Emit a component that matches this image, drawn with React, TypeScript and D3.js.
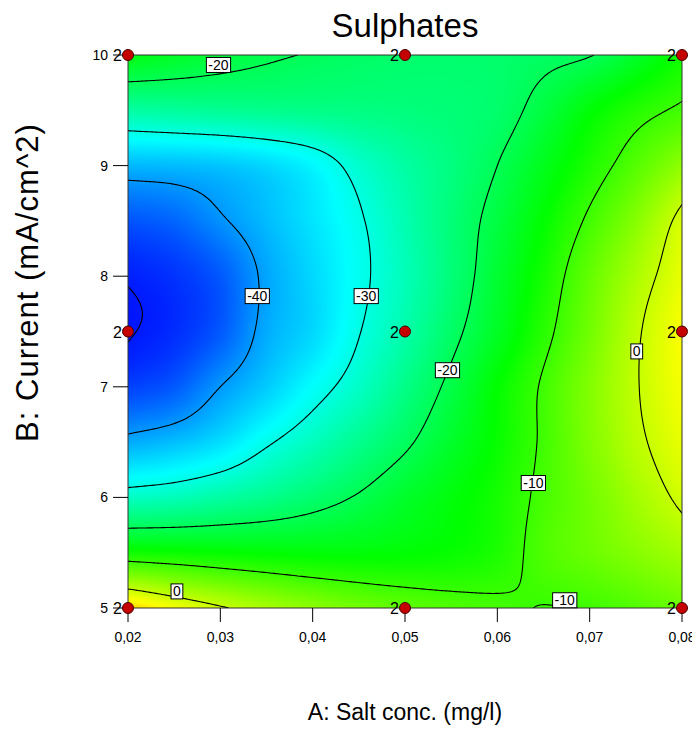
import React, { useMemo } from "react";
import * as d3 from "d3";

// ---------- data ----------
const SALT = [0.02, 0.025, 0.03, 0.035, 0.04, 0.045, 0.05, 0.055, 0.06, 0.065, 0.07, 0.075, 0.08];
const CURRENT = [10, 9.5, 9, 8.5, 8, 7.5, 7, 6.5, 6, 5.5, 5];
// Sulphates response, one row per CURRENT value (top to bottom), one column per SALT value
const SULPHATES = [
  [-15, -16.5, -18, -19.3, -20.3, -21, -21.5, -21.7, -21.5, -21, -20.2, -17, -13],
  [-25.5, -25, -24.5, -24, -23.6, -23.2, -22.8, -22.3, -21.5, -18.5, -14.5, -11.5, -9.3],
  [-37.5, -37.2, -36.5, -35, -32.5, -28.5, -25.5, -23, -20, -16, -12, -8, -3.8],
  [-45.5, -44, -40.6, -37.2, -34, -30.5, -26.5, -22.5, -18.5, -14, -9.3, -4.5, 1.2],
  [-49.6, -48, -45, -39, -35, -31, -27, -22.5, -17.5, -12.5, -7, -2, 2.5],
  [-50.3, -48.5, -45, -38.5, -35, -30.2, -26, -21.2, -16.5, -11.2, -6, -0.6, 3.8],
  [-47, -45, -40, -36, -31.8, -28, -23.5, -19, -14, -9.5, -4.8, -0.3, 3.5],
  [-38.6, -37, -34.5, -30.6, -27.3, -24, -20.7, -17, -13.5, -9.4, -5, -0.9, 2.5],
  [-27.8, -27, -25.5, -23.8, -21.8, -19.6, -17, -14.8, -12.5, -9, -6, -2.5, 0.8],
  [-12.8, -13.3, -13.8, -14.2, -14.5, -14.5, -14.2, -13.5, -12, -8.5, -6.5, -4.5, -2.5],
  [7, 3.5, 0.5, -2, -4, -5.8, -7.2, -8.3, -9.2, -10.1, -9.6, -8.2, -6.5],
];
const LEVELS = [-50, -40, -30, -20, -10, 0];
const COLOR_STOPS = [-52, -32, -14, 4, 20];
const COLOR_RANGE = ["#0000ff", "#00ffff", "#00ff00", "#ffff00", "#ff0000"];
const X_TICKS = [0.02, 0.03, 0.04, 0.05, 0.06, 0.07, 0.08];
const X_TICK_LABELS = ["0,02", "0,03", "0,04", "0,05", "0,06", "0,07", "0,08"];
const Y_TICKS = [5, 6, 7, 8, 9, 10];
const DESIGN_POINTS = [
  { a: 0.02, b: 10, n: 2 }, { a: 0.05, b: 10, n: 2 }, { a: 0.08, b: 10, n: 2 },
  { a: 0.02, b: 7.5, n: 2 }, { a: 0.05, b: 7.5, n: 2 }, { a: 0.08, b: 7.5, n: 2 },
  { a: 0.02, b: 5, n: 2 }, { a: 0.05, b: 5, n: 2 }, { a: 0.08, b: 5, n: 2 },
];
const CONTOUR_LABELS = [
  { level: -20, a: 0.0298, b: 9.91 },
  { level: -40, a: 0.034, b: 7.82 },
  { level: -30, a: 0.0458, b: 7.82 },
  { level: -20, a: 0.0546, b: 7.15 },
  { level: -10, a: 0.0639, b: 6.13 },
  { level: -10, a: 0.0673, b: 5.07 },
  { level: 0, a: 0.0751, b: 7.32 },
  { level: 0, a: 0.0253, b: 5.15 },
];

const FONT = "'Liberation Sans', Arial, Helvetica, sans-serif";

function cr(p0: number, p1: number, p2: number, p3: number, t: number) {
  return 0.5 * (2 * p1 + (-p0 + p2) * t + (2 * p0 - 5 * p1 + 4 * p2 - p3) * t * t + (-p0 + 3 * p1 - 3 * p2 + p3) * t * t * t);
}
function cell(r: number, c: number): number {
  const nr = SULPHATES.length, nc = SULPHATES[0].length;
  if (r < 0) return 2 * cell(0, c) - cell(1, c);
  if (r >= nr) return 2 * cell(nr - 1, c) - cell(nr - 2, c);
  if (c < 0) return 2 * cell(r, 0) - cell(r, 1);
  if (c >= nc) return 2 * cell(r, nc - 1) - cell(r, nc - 2);
  return SULPHATES[r][c];
}
function surface(a: number, b: number) {
  const sc = (a - SALT[0]) / (SALT[1] - SALT[0]);
  const sr = (CURRENT[0] - b) / (CURRENT[0] - CURRENT[1]);
  const c = Math.min(Math.max(Math.floor(sc), 0), SALT.length - 2);
  const r = Math.min(Math.max(Math.floor(sr), 0), CURRENT.length - 2);
  const tc = sc - c, tr = sr - r;
  const rows = [-1, 0, 1, 2].map((dr) =>
    cr(cell(r + dr, c - 1), cell(r + dr, c), cell(r + dr, c + 1), cell(r + dr, c + 2), tc)
  );
  return cr(rows[0], rows[1], rows[2], rows[3], tr);
}

export default function App() {
  const W = 700, H = 733;
  const x = d3.scaleLinear().domain([0.02, 0.08]).range([128, 682]);
  const y = d3.scaleLinear().domain([5, 10]).range([608, 55]);
  const color = d3.scaleLinear<string>().domain(COLOR_STOPS).range(COLOR_RANGE).clamp(true);
  const [x0, x1] = x.range();
  const [y1, y0] = y.range();

  const { href, paths, nx, ny, stepX, stepY } = useMemo(() => {
    const nx = 278, ny = 277;
    const stepX = (x1 - x0) / (nx - 1), stepY = (y1 - y0) / (ny - 1);
    const values = new Float64Array(nx * ny);
    for (let j = 0; j < ny; j++) {
      const b = y.invert(y0 + j * stepY);
      for (let i = 0; i < nx; i++) {
        values[j * nx + i] = surface(x.invert(x0 + i * stepX), b);
      }
    }
    let href = "";
    try {
      const canvas = document.createElement("canvas");
      canvas.width = nx; canvas.height = ny;
      const ctx = canvas.getContext("2d")!;
      const img = ctx.createImageData(nx, ny);
      for (let k = 0; k < nx * ny; k++) {
        const c = d3.rgb(color(values[k]));
        img.data[4 * k] = c.r; img.data[4 * k + 1] = c.g; img.data[4 * k + 2] = c.b; img.data[4 * k + 3] = 255;
      }
      ctx.putImageData(img, 0, 0);
      href = canvas.toDataURL();
    } catch (e) { href = ""; }
    const contours = d3.contours().size([nx, ny]).thresholds(LEVELS)(Array.from(values));
    const paths = contours.map((g) => {
      let d = "";
      g.coordinates.forEach((poly) => poly.forEach((ring) => {
        ring.forEach((p, k) => {
          const px = x0 + (p[0] - 0.5) * stepX, py = y0 + (p[1] - 0.5) * stepY;
          d += (k === 0 ? "M" : "L") + px.toFixed(2) + "," + py.toFixed(2);
        });
      }));
      return { level: g.value, d };
    });
    return { href, paths, nx, ny, stepX, stepY };
  }, []);

  const textW = (s: string, fs: number) => s.split("").reduce((w, ch) => w + (ch === "-" ? 0.333 : 0.556), 0) * fs;

  return (
    <svg width={W} height={H} style={{ display: "block", margin: "-8px" }} fontFamily={FONT}>
      <defs>
        <clipPath id="plotClip"><rect x={x0} y={y0} width={x1 - x0} height={y1 - y0} /></clipPath>
      </defs>
      <rect width={W} height={H} fill="#fff" />
      <text x={(x0 + x1) / 2} y={37} fontSize={33} textAnchor="middle">Sulphates</text>
      <g clipPath="url(#plotClip)">
        {href && (
          <image href={href} x={x0 - stepX / 2} y={y0 - stepY / 2} width={nx * stepX} height={ny * stepY} preserveAspectRatio="none" />
        )}
        {paths.map((p, i) => (
          <path key={i} d={p.d} fill="none" stroke="#000" strokeWidth={1.1} />
        ))}
      </g>
      <rect x={x0} y={y0} width={x1 - x0} height={y1 - y0} fill="none" stroke="#333" strokeWidth={1} />
      {CONTOUR_LABELS.map((l, i) => {
        const s = String(l.level);
        const w = textW(s, 14) + 4;
        const cx = x(l.a), cy = y(l.b);
        return (
          <g key={i}>
            <rect x={cx - w / 2} y={cy - 7.5} width={w} height={15} fill="#fff" stroke="#000" strokeWidth={1} />
            <text x={cx} y={cy + 5} fontSize={14} textAnchor="middle">{s}</text>
          </g>
        );
      })}
      {X_TICKS.map((t, i) => (
        <g key={i}>
          <line x1={x(t)} x2={x(t)} y1={y1} y2={y1 + 14} stroke="#000" />
          <text x={x(t)} y={642} fontSize={14} textAnchor="middle">{X_TICK_LABELS[i]}</text>
        </g>
      ))}
      {Y_TICKS.map((t, i) => (
        <g key={i}>
          <line x1={x0 - 15} x2={x0} y1={y(t)} y2={y(t)} stroke="#000" />
          <text x={108} y={y(t) + 5} fontSize={14} textAnchor="end">{t}</text>
        </g>
      ))}
      {DESIGN_POINTS.map((p, i) => (
        <g key={i}>
          <text x={x(p.a) - 6} y={y(p.b) + 6} fontSize={16} textAnchor="end">{p.n}</text>
          <circle cx={x(p.a)} cy={y(p.b)} r={5.5} fill="#c40000" stroke="#4a0000" strokeWidth={1} />
        </g>
      ))}
      <text x={(x0 + x1) / 2} y={720} fontSize={23} textAnchor="middle">A: Salt conc. (mg/l)</text>
      <text transform={`translate(38,${(118 + 447) / 2}) rotate(-90)`} fontSize={31} letterSpacing={1} textAnchor="middle">B: Current  (mA/cm^2)</text>
    </svg>
  );
}
